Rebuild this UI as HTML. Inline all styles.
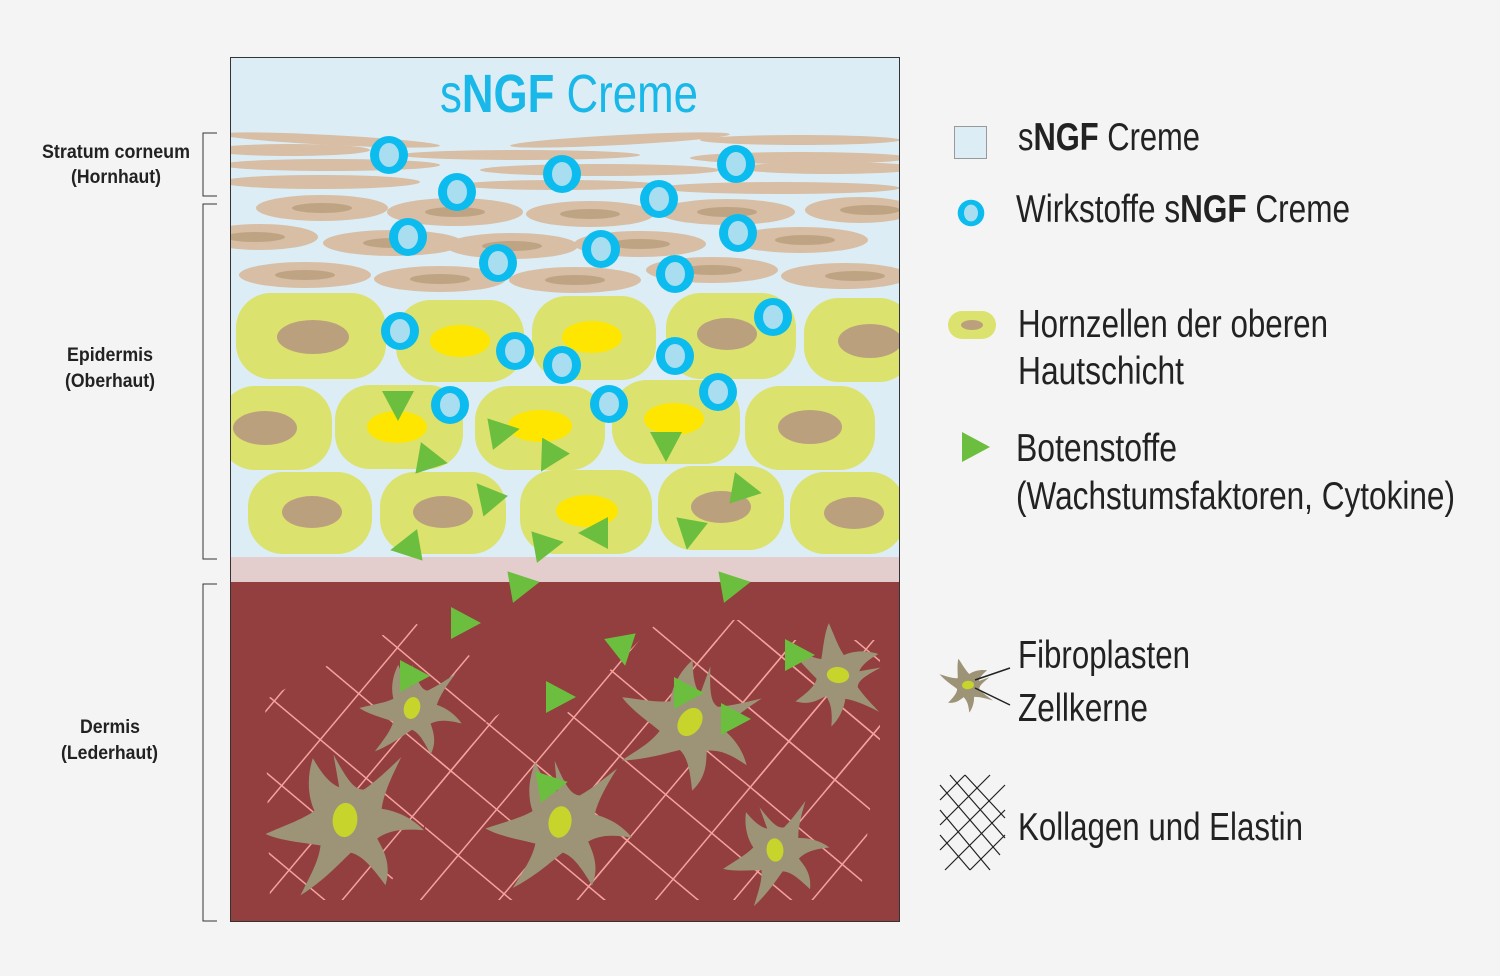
<!DOCTYPE html>
<html><head><meta charset="utf-8"><style>
html,body{margin:0;padding:0;background:#f4f4f4;}
svg{display:block}
text{font-family:"Liberation Sans Narrow","Liberation Sans",sans-serif;}
</style></head><body>
<svg width="1500" height="976" viewBox="0 0 1500 976" xmlns="http://www.w3.org/2000/svg">
<defs>
<clipPath id="box"><rect x="230" y="57" width="670" height="865"/></clipPath>
<pattern id="lat" width="60" height="60" patternUnits="userSpaceOnUse" patternTransform="rotate(40)">
<path d="M0 0V60M0 0H60" stroke="#f3a29e" stroke-width="3" fill="none"/>
</pattern>
<g id="cir"><circle r="19" fill="#0cbcee"/><ellipse rx="10" ry="12" fill="#a9def1"/></g>
<path id="tri" d="M-12,-16 L18,0 L-12,16Z" fill="#6cbe3e"/>
<g id="fib"><path d="M0,-70 C10,-40 15,-30 25,-28 C40,-35 55,-45 70,-55 C55,-35 45,-20 40,-5 C55,0 70,10 80,25 C60,20 45,18 30,25 C35,40 40,55 30,75 C20,55 12,40 0,35 C-15,45 -35,60 -60,70 C-45,50 -35,38 -30,22 C-50,15 -70,10 -85,0 C-65,-5 -45,-8 -30,-15 C-35,-35 -30,-55 -22,-70 C-15,-50 -8,-40 0,-35 Z" fill="#9d9477"/><ellipse rx="13" ry="18" fill="#c7d42c" transform="rotate(15)"/></g>
</defs>
<g clip-path="url(#box)">
<rect x="230" y="57" width="670" height="865" fill="#dcedf5"/>
<g fill="#d7bea4">
<ellipse cx="330" cy="140" rx="110" ry="5" transform="rotate(3 330 140)"/>
<ellipse cx="620" cy="140" rx="110" ry="5" transform="rotate(-3 620 140)"/>
<ellipse cx="800" cy="140" rx="100" ry="5"/>
<ellipse cx="290" cy="150" rx="80" ry="6"/>
<ellipse cx="520" cy="155" rx="120" ry="5"/>
<ellipse cx="800" cy="158" rx="110" ry="6"/>
<ellipse cx="330" cy="165" rx="110" ry="6"/>
<ellipse cx="600" cy="170" rx="120" ry="6"/>
<ellipse cx="830" cy="168" rx="90" ry="6"/>
<ellipse cx="320" cy="182" rx="100" ry="7"/>
<ellipse cx="560" cy="185" rx="100" ry="5"/>
<ellipse cx="780" cy="188" rx="120" ry="6"/>
</g>
<g fill="#d7bea4">
<ellipse cx="322" cy="208" rx="66" ry="13"/><ellipse cx="455" cy="212" rx="68" ry="14"/><ellipse cx="590" cy="214" rx="64" ry="13"/><ellipse cx="727" cy="212" rx="68" ry="13"/><ellipse cx="860" cy="210" rx="55" ry="13"/>
<ellipse cx="260" cy="237" rx="58" ry="13"/><ellipse cx="393" cy="243" rx="70" ry="13"/><ellipse cx="512" cy="246" rx="66" ry="13"/><ellipse cx="640" cy="244" rx="66" ry="13"/><ellipse cx="800" cy="240" rx="68" ry="13"/>
<ellipse cx="305" cy="275" rx="66" ry="13"/><ellipse cx="440" cy="279" rx="66" ry="13"/><ellipse cx="575" cy="280" rx="66" ry="13"/><ellipse cx="712" cy="270" rx="66" ry="13"/><ellipse cx="845" cy="276" rx="64" ry="13"/>
</g>
<g fill="#bfa484">
<ellipse cx="322" cy="208" rx="30" ry="5"/><ellipse cx="455" cy="212" rx="30" ry="5"/><ellipse cx="590" cy="214" rx="30" ry="5"/><ellipse cx="727" cy="212" rx="30" ry="5"/><ellipse cx="870" cy="210" rx="30" ry="5"/>
<ellipse cx="255" cy="237" rx="30" ry="5"/><ellipse cx="393" cy="243" rx="30" ry="5"/><ellipse cx="512" cy="246" rx="30" ry="5"/><ellipse cx="640" cy="244" rx="30" ry="5"/><ellipse cx="805" cy="240" rx="30" ry="5"/>
<ellipse cx="305" cy="275" rx="30" ry="5"/><ellipse cx="440" cy="279" rx="30" ry="5"/><ellipse cx="575" cy="280" rx="30" ry="5"/><ellipse cx="712" cy="270" rx="30" ry="5"/><ellipse cx="855" cy="276" rx="30" ry="5"/>
</g>
<g fill="#dbe26d">
<rect x="236" y="293" width="150" height="86" rx="35"/><rect x="396" y="300" width="128" height="82" rx="35"/><rect x="532" y="296" width="124" height="84" rx="35"/><rect x="666" y="293" width="130" height="86" rx="35"/><rect x="804" y="298" width="110" height="84" rx="35"/>
<rect x="220" y="386" width="112" height="84" rx="35"/><rect x="335" y="385" width="128" height="84" rx="35"/><rect x="475" y="386" width="130" height="84" rx="35"/><rect x="612" y="380" width="128" height="84" rx="35"/><rect x="745" y="386" width="130" height="84" rx="35"/>
<rect x="248" y="472" width="124" height="82" rx="35"/><rect x="380" y="472" width="126" height="82" rx="35"/><rect x="520" y="470" width="132" height="84" rx="35"/><rect x="658" y="466" width="126" height="84" rx="35"/><rect x="790" y="472" width="115" height="82" rx="35"/>
</g>
<g fill="#bba07e">
<ellipse cx="313" cy="337" rx="36" ry="17"/><ellipse cx="727" cy="334" rx="30" ry="16"/><ellipse cx="870" cy="341" rx="32" ry="17"/>
<ellipse cx="265" cy="428" rx="32" ry="17"/><ellipse cx="810" cy="427" rx="32" ry="17"/>
<ellipse cx="312" cy="512" rx="30" ry="16"/><ellipse cx="443" cy="512" rx="30" ry="16"/><ellipse cx="721" cy="507" rx="30" ry="16"/><ellipse cx="854" cy="513" rx="30" ry="16"/>
</g>
<g fill="#ffe600">
<ellipse cx="460" cy="341" rx="30" ry="16"/><ellipse cx="592" cy="337" rx="30" ry="16"/>
<ellipse cx="397" cy="427" rx="30" ry="16"/><ellipse cx="540" cy="426" rx="32" ry="16"/><ellipse cx="674" cy="419" rx="30" ry="16"/>
<ellipse cx="587" cy="511" rx="31" ry="16"/>
</g>
<rect x="230" y="557" width="670" height="25" fill="#e3cdcd"/>
<rect x="230" y="582" width="670" height="340" fill="#933e3f"/>
<g fill="url(#lat)">
<polygon points="265,700 410,620 510,680 440,800 380,900 270,900"/>
<polygon points="430,760 520,700 610,750 640,900 420,900"/>
<polygon points="560,720 660,620 760,620 880,720 860,900 600,900"/>
<polygon points="690,640 880,640 880,780 760,800"/>
</g>
<use href="#fib" transform="translate(412,708) scale(0.62)"/>
<use href="#fib" transform="translate(345,820) scale(0.95) rotate(-10)"/>
<use href="#fib" transform="translate(690,722) scale(0.85) rotate(20)"/>
<use href="#fib" transform="translate(838,675) scale(0.62) rotate(80)"/>
<use href="#fib" transform="translate(560,822) scale(0.88) rotate(-5)"/>
<use href="#fib" transform="translate(775,850) scale(0.65) rotate(-20)"/>
<use href="#cir" x="389" y="155"/><use href="#cir" x="457" y="192"/><use href="#cir" x="562" y="174"/><use href="#cir" x="659" y="199"/><use href="#cir" x="736" y="164"/>
<use href="#cir" x="408" y="237"/><use href="#cir" x="498" y="263"/><use href="#cir" x="601" y="249"/><use href="#cir" x="738" y="233"/><use href="#cir" x="675" y="274"/>
<use href="#cir" x="400" y="331"/><use href="#cir" x="515" y="351"/><use href="#cir" x="562" y="365"/><use href="#cir" x="675" y="356"/><use href="#cir" x="773" y="317"/>
<use href="#cir" x="450" y="405"/><use href="#cir" x="609" y="404"/><use href="#cir" x="718" y="392"/>
<use href="#tri" transform="translate(398,403) rotate(90)"/>
<use href="#tri" transform="translate(430,460) rotate(10)"/>
<use href="#tri" transform="translate(502,432) rotate(-10)"/>
<use href="#tri" transform="translate(550,456) rotate(120)"/>
<use href="#tri" transform="translate(666,444) rotate(90)"/>
<use href="#tri" transform="translate(488,497) rotate(-130)"/>
<use href="#tri" transform="translate(408,547) rotate(170)"/>
<use href="#tri" transform="translate(546,545) rotate(-10)"/>
<use href="#tri" transform="translate(596,533) rotate(180)"/>
<use href="#tri" transform="translate(690,532) rotate(100)"/>
<use href="#tri" transform="translate(744,490) rotate(10)"/>
<use href="#tri" transform="translate(522,585) rotate(-10)"/>
<use href="#tri" transform="translate(733,585) rotate(-10)"/>
<use href="#tri" transform="translate(463,623)"/>
<use href="#tri" transform="translate(622,648) rotate(80)"/>
<use href="#tri" transform="translate(412,676)"/>
<use href="#tri" transform="translate(558,697)"/>
<use href="#tri" transform="translate(797,655)"/>
<use href="#tri" transform="translate(686,693)"/>
<use href="#tri" transform="translate(733,719)"/>
<use href="#tri" transform="translate(550,785) rotate(-10)"/>
<text x="440" y="112" font-size="54" fill="#1ab8e8" textLength="258" lengthAdjust="spacingAndGlyphs">s<tspan font-weight="bold">NGF</tspan> Creme</text>
</g>
<rect x="230.5" y="57.5" width="669" height="864" fill="none" stroke="#333" stroke-width="1"/>
<g stroke="#333" fill="none" stroke-width="1">
<path d="M217,133H203V196H217"/><path d="M217,204H203V559H217"/><path d="M217,584H203V921H217"/>
</g>
<g font-size="19" font-weight="bold" fill="#222" lengthAdjust="spacingAndGlyphs">
<text x="42" y="158" textLength="148" lengthAdjust="spacingAndGlyphs">Stratum corneum</text>
<text x="71" y="183" textLength="90" lengthAdjust="spacingAndGlyphs">(Hornhaut)</text>
<text x="67" y="361" textLength="86" lengthAdjust="spacingAndGlyphs">Epidermis</text>
<text x="65" y="387" textLength="90" lengthAdjust="spacingAndGlyphs">(Oberhaut)</text>
<text x="80" y="733" textLength="60" lengthAdjust="spacingAndGlyphs">Dermis</text>
<text x="61" y="759" textLength="97" lengthAdjust="spacingAndGlyphs">(Lederhaut)</text>
</g>
<rect x="954.5" y="126.5" width="32" height="32" fill="#dcedf5" stroke="#999"/>
<use href="#cir" transform="translate(971,213) scale(0.7)"/>
<rect x="948" y="311" width="48" height="28" rx="14" fill="#dbe26d"/><ellipse cx="972" cy="325" rx="11" ry="5" fill="#bba07e"/>
<path d="M962,432 L990,447 L962,462Z" fill="#6cbe3e"/>
<use href="#fib" transform="translate(968,685) scale(0.33) rotate(70)"/>
<path d="M975,680 L1010,668 M975,688 L1010,705" stroke="#222" stroke-width="1.5"/>
<g stroke="#222" stroke-width="1.2">
<path d="M940,800 L965,775 M940,825 L990,775 M940,850 L1005,785 M945,870 L1005,810 M970,870 L1005,835"/>
<path d="M940,785 L1000,855 M950,775 L1005,838 M965,775 L1005,818 M940,810 L990,870 M940,835 L970,870"/>
</g>
<g font-size="39" fill="#222">
<text x="1018" y="150" textLength="182" lengthAdjust="spacingAndGlyphs">s<tspan font-weight="bold">NGF</tspan> Creme</text>
<text x="1016" y="222" textLength="334" lengthAdjust="spacingAndGlyphs">Wirkstoffe s<tspan font-weight="bold">NGF</tspan> Creme</text>
<text x="1018" y="337" textLength="310" lengthAdjust="spacingAndGlyphs">Hornzellen der oberen</text>
<text x="1018" y="384" textLength="166" lengthAdjust="spacingAndGlyphs">Hautschicht</text>
<text x="1016" y="461" textLength="161" lengthAdjust="spacingAndGlyphs">Botenstoffe</text>
<text x="1016" y="509" textLength="439" lengthAdjust="spacingAndGlyphs">(Wachstumsfaktoren, Cytokine)</text>
<text x="1018" y="668" textLength="172" lengthAdjust="spacingAndGlyphs">Fibroplasten</text>
<text x="1018" y="721" textLength="130" lengthAdjust="spacingAndGlyphs">Zellkerne</text>
<text x="1018" y="840" textLength="285" lengthAdjust="spacingAndGlyphs">Kollagen und Elastin</text>
</g>
</svg>
</body></html>
